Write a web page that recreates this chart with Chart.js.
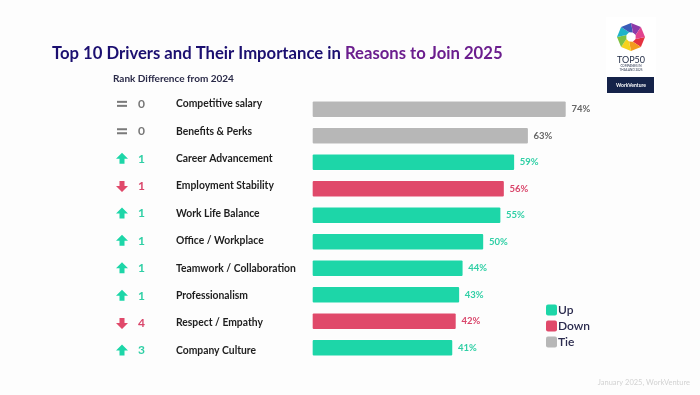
<!DOCTYPE html>
<html>
<head>
<meta charset="utf-8">
<script src="https://cdn.jsdelivr.net/npm/chart.js@4/dist/chart.umd.min.js"></script>
<style>
  html, body { margin: 0; padding: 0; background: #fdfdfd; }
  #wrap { position: relative; width: 700px; height: 395px; }
</style>
</head>
<body>
<div id="wrap"><canvas id="chart" width="700" height="395"></canvas></div>
<script>
// Data
const categories = ['Competitive salary', 'Benefits & Perks', 'Career Advancement', 'Employment Stability',
  'Work Life Balance', 'Office / Workplace', 'Teamwork / Collaboration', 'Professionalism',
  'Respect / Empathy', 'Company Culture'];
const importance = [74, 63, 59, 56, 55, 50, 44, 43, 42, 41];
const rankChange = [0, 0, 1, -1, 1, 1, 1, 1, -4, 3];
const legendLabels = ['Up', 'Down', 'Tie'];

const FONT = 'Lato, "Noto Sans", sans-serif';
const colors = { up: '#1dd6a8', down: '#e0496a', tie: '#b7b7b7' };
const textColors = { up: '#2fcfa5', down: '#d9456a', tie: '#666666' };
const trend = v => v > 0 ? 'up' : (v < 0 ? 'down' : 'tie');

// set a font so the text fits a given width (fonts here differ from the original)
function fitFont(ctx, text, weight, size, width) {
  ctx.font = weight + ' ' + size + 'px ' + FONT;
  const s = size * width / ctx.measureText(text).width;
  ctx.font = weight + ' ' + s.toFixed(2) + 'px ' + FONT;
  return ctx.font;
}

// Decorations: title, rank column, labels, legend, logo
const decor = {
  id: 'decor',
  afterDatasetsDraw(chart) {
    const ctx = chart.ctx;
    const y = chart.scales.y;
    const meta = chart.getDatasetMeta(0);
    ctx.save();
    ctx.textBaseline = 'alphabetic';
    ctx.textAlign = 'left';

    // title
    const t1 = 'Top 10 Drivers and Their Importance in ';
    const t2 = 'Reasons to Join 2025';
    fitFont(ctx, t1 + t2, 'bold', 20, 451);
    ctx.fillStyle = '#1b0f70';
    ctx.fillText(t1, 52, 59);
    ctx.fillStyle = '#6b1e8e';
    ctx.fillText(t2, 52 + ctx.measureText(t1).width, 59);

    fitFont(ctx, 'Rank Difference from 2024', 'bold', 11, 121);
    ctx.fillStyle = '#2a2a48';
    ctx.fillText('Rank Difference from 2024', 113, 82);

    const catFont = fitFont(ctx, 'Teamwork / Collaboration', 'bold', 12, 120);

    ctx.textBaseline = 'middle';
    categories.forEach((c, i) => {
      const by = y.getPixelForValue(i);
      // the label rows are spaced a little wider than the bars
      const cy = by + (i - 6) * 0.9;
      const tr = trend(rankChange[i]);

      // icon
      ctx.fillStyle = tr === 'tie' ? '#7a7a7a' : colors[tr];
      const ix = 122;
      if (tr === 'tie') {
        ctx.fillRect(ix - 5, cy - 3, 10, 2);
        ctx.fillRect(ix - 5, cy + 1, 10, 2);
      } else {
        const d = tr === 'up' ? -1 : 1;
        ctx.beginPath();
        ctx.moveTo(ix, cy + d * 6);
        ctx.lineTo(ix + 6, cy);
        ctx.lineTo(ix + 2.5, cy);
        ctx.lineTo(ix + 2.5, cy - d * 5);
        ctx.lineTo(ix - 2.5, cy - d * 5);
        ctx.lineTo(ix - 2.5, cy);
        ctx.lineTo(ix - 6, cy);
        ctx.closePath();
        ctx.fill();
      }

      // rank number
      ctx.font = 'bold 12px ' + FONT;
      ctx.fillStyle = tr === 'tie' ? '#777777' : textColors[tr];
      ctx.fillText(String(Math.abs(rankChange[i])), 138, cy);

      // category
      ctx.font = catFont;
      ctx.fillStyle = '#1e1e1e';
      ctx.fillText(c, 176, cy);

      // value label
      const bar = meta.data[i];
      ctx.font = 'bold 9.5px ' + FONT;
      ctx.fillStyle = textColors[tr];
      ctx.fillText(importance[i] + '%', bar.x + 5, by);
    });

    // legend
    const legendKeys = ['up', 'down', 'tie'];
    legendLabels.forEach((l, i) => {
      const ly = 310 + i * 16;
      ctx.fillStyle = colors[legendKeys[i]];
      ctx.beginPath();
      ctx.roundRect(546, ly - 5.5, 11, 11, 2);
      ctx.fill();
      ctx.font = '600 12px ' + FONT;
      ctx.fillStyle = '#2b2b4e';
      ctx.fillText(l, 558, ly + 0.5);
    });

    // footer
    ctx.font = '7.5px ' + FONT;
    ctx.fillStyle = '#d2d2d2';
    ctx.textAlign = 'right';
    ctx.fillText('January 2025, WorkVenture', 690, 383);

    // logo
    ctx.fillStyle = '#ffffff';
    ctx.fillRect(606, 17, 50, 77);
    const cx = 631, cyy = 37;
    const pal = ['#e5323f', '#f39a1e', '#f5d21c', '#7fc242', '#1fb3c9', '#3a5bb8', '#8d3aa8', '#e2438e'];
    for (let k = 0; k < 8; k++) {
      const a1 = k * Math.PI / 4, a2 = (k + 1) * Math.PI / 4;
      ctx.fillStyle = pal[k];
      ctx.beginPath();
      ctx.moveTo(cx + 5 * Math.cos(a1 + 0.4), cyy + 5 * Math.sin(a1 + 0.4));
      ctx.lineTo(cx + 14 * Math.cos(a1), cyy + 14 * Math.sin(a1));
      ctx.lineTo(cx + 14 * Math.cos(a2), cyy + 14 * Math.sin(a2));
      ctx.lineTo(cx + 5 * Math.cos(a2 + 0.4), cyy + 5 * Math.sin(a2 + 0.4));
      ctx.closePath();
      ctx.fill();
    }
    ctx.textAlign = 'center';
    ctx.fillStyle = '#1f2a44';
    ctx.font = '9px ' + FONT;
    ctx.fillText('TOP50', cx, 60);
    ctx.font = '3px ' + FONT;
    ctx.fillText('COMPANIES IN', cx, 66);
    ctx.fillText('THAILAND 2025', cx, 70);
    ctx.fillStyle = '#15234a';
    ctx.fillRect(607, 77, 47, 16);
    ctx.font = 'bold 5px ' + FONT;
    ctx.fillStyle = '#ffffff';
    ctx.fillText('WorkVenture', cx, 85);
    ctx.restore();
  }
};

new Chart(document.getElementById('chart'), {
  type: 'bar',
  data: {
    labels: categories,
    datasets: [{
      data: importance,
      backgroundColor: rankChange.map(v => colors[trend(v)]),
      borderColor: 'rgba(255,255,255,0.6)',
      borderWidth: 1,
      borderRadius: 2,
      borderSkipped: false,
      barThickness: 17
    }]
  },
  options: {
    indexAxis: 'y',
    responsive: false,
    animation: false,
    layout: { padding: { left: 312, right: 113, top: 96, bottom: 34 } },
    plugins: { legend: { display: false }, tooltip: { enabled: false } },
    scales: {
      x: { display: false, min: 0, max: 80 },
      y: { display: false }
    }
  },
  plugins: [decor]
});
</script>
</body>
</html>
